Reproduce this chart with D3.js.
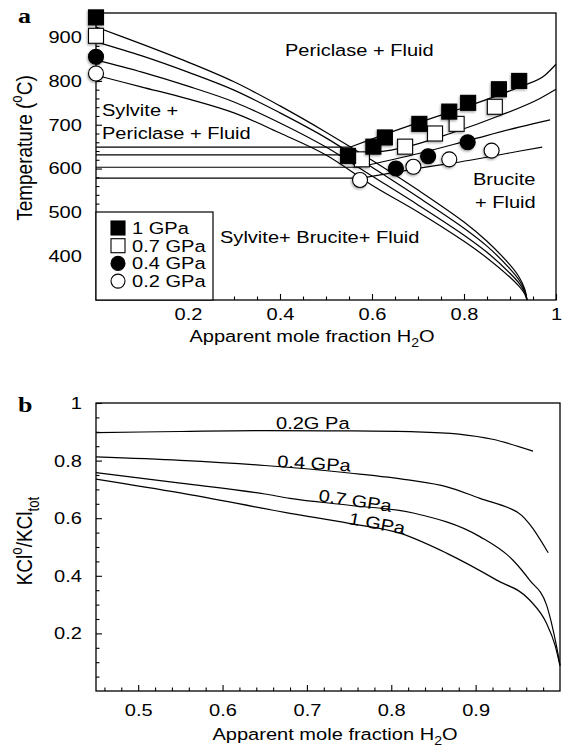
<!DOCTYPE html>
<html><head><meta charset="utf-8">
<script src="https://cdn.jsdelivr.net/npm/d3@7"></script>
<style>
body{margin:0;background:#fff;}
svg text{font-family:"Liberation Sans",Arial,Helvetica,sans-serif;fill:#000;}
</style></head><body>
<svg id="chart" width="563" height="747"></svg>
<script>
// ---------- Panel a: phase relations ----------
const pressures = ["1 GPa", "0.7 GPa", "0.4 GPa", "0.2 GPa"];
const markerShape = ["square", "square", "circle", "circle"];
const markerFill = ["#000", "#fff", "#000", "#fff"];

// experimental brackets (apparent X_H2O, T in °C)
const ptsX_1 = [0, 0.548, 0.603, 0.628, 0.703, 0.768, 0.809, 0.876, 0.920];
const ptsT_1 = [945, 629, 650, 671, 702, 730, 750, 781, 800];
const ptsX_07 = [0, 0.578, 0.672, 0.737, 0.784, 0.867];
const ptsT_07 = [903, 621, 650, 680, 702, 741];
const ptsX_04 = [0, 0.652, 0.722, 0.808];
const ptsT_04 = [855, 600, 628, 660];
const ptsX_02 = [0, 0.574, 0.690, 0.768, 0.860];
const ptsT_02 = [817, 574, 604, 621, 641];

// sylvite saturation curves
const liqX = [0, 0.1, 0.2, 0.3, 0.4, 0.5, 0.6, 0.7, 0.8, 0.85, 0.9, 0.92, 0.932, 0.937];
const liqT_1 = [923, 884, 843, 798, 743, 683, 619, 551, 478, 434, 380, 352, 325, 300];
const liqT_07 = [889, 857, 820, 779, 727, 670, 603, 535, 464, 423, 371, 345, 321, 300];
const liqT_04 = [848, 820, 788, 752, 704, 649, 583, 517, 448, 409, 361, 338, 318, 300];
const liqT_02 = [813, 786, 759, 727, 681, 631, 562, 501, 434, 396, 352, 331, 314, 300];

// sylvite + periclase + brucite invariant (horizontal lines)
const invX = [0.553, 0.558, 0.570, 0.577];
const invT = [649, 631, 603, 578];

// periclase / brucite boundary
const pbX_1 = [0.553, 0.617, 0.704, 0.813, 0.922, 0.976, 1.0];
const pbT_1 = [649, 674, 706, 744, 787, 813, 838];
const pbX_07 = [0.558, 0.661, 0.770, 0.878, 0.965, 1.0];
const pbT_07 = [631, 646, 680, 721, 760, 781];
const pbX_04 = [0.570, 0.704, 0.813, 0.922, 0.987];
const pbT_04 = [603, 635, 665, 695, 711];
const pbX_02 = [0.577, 0.704, 0.813, 0.922, 0.970];
const pbT_02 = [578, 601, 619, 640, 649];

const tickT = [400, 500, 600, 700, 800, 900];
const tickXa = [0.2, 0.4, 0.6, 0.8, 1];

// ---------- Panel b: KCl speciation ----------
const kclX_02 = [0.45, 0.55, 0.65, 0.75, 0.83, 0.88, 0.92, 0.968];
const kcl_02 = [0.897, 0.901, 0.904, 0.903, 0.900, 0.892, 0.874, 0.833];
const kclX_04 = [0.45, 0.55, 0.65, 0.75, 0.82, 0.866, 0.905, 0.945, 0.95, 0.986];
const kcl_04 = [0.813, 0.801, 0.783, 0.757, 0.733, 0.709, 0.669, 0.628, 0.62, 0.48];
const kclX_07 = [0.45, 0.55, 0.65, 0.68, 0.75, 0.826, 0.905, 0.944, 0.964, 0.984, 0.99, 0.996, 1.0];
const kcl_07 = [0.758, 0.722, 0.684, 0.669, 0.645, 0.618, 0.536, 0.455, 0.385, 0.299, 0.235, 0.154, 0.090];
const kclX_1 = [0.45, 0.55, 0.68, 0.75, 0.81, 0.866, 0.925, 0.964, 0.984, 0.994, 1.0];
const kcl_1 = [0.736, 0.688, 0.617, 0.582, 0.548, 0.478, 0.385, 0.316, 0.235, 0.160, 0.087];

const tickKb = [0.2, 0.4, 0.6, 0.8, 1];
const tickXb = [0.5, 0.6, 0.7, 0.8, 0.9];

// ---------- drawing ----------
const SX = 1.18;          // lettering is slightly wide
const FS = 17;
const svg = d3.select("#chart");

const defs = svg.append("defs");
const f = defs.append("filter").attr("id", "shadow").attr("x", "-50%").attr("y", "-50%").attr("width", "200%").attr("height", "200%");
f.append("feDropShadow").attr("dx", -0.8).attr("dy", 1.4).attr("stdDeviation", 0.9)
  .attr("flood-color", "#000").attr("flood-opacity", 0.35);

function txt(g, x, y, parts, o = {}) {
  const t = g.append("text")
    .attr("transform", `translate(${x},${y}) rotate(${o.rot || 0}) scale(${o.sx || SX},${o.sy || 1})`)
    .attr("font-size", o.fs || FS)
    .attr("text-anchor", o.anchor || "start")
    .attr("font-weight", o.bold ? "bold" : null)
    .style("font-family", o.serif ? "'Liberation Serif','Times New Roman',serif" : null);
  let shift = 0;
  (Array.isArray(parts) ? parts : [parts]).forEach(p => {
    if (typeof p === "string") p = { t: p };
    const target = p.sup ? -0.45 : p.sub ? 0.3 : 0;
    const fs = (o.fs || FS) * (p.sup || p.sub ? 0.7 : 1);
    t.append("tspan").attr("dy", ((target - shift) * (o.fs || FS)).toFixed(2))
      .attr("font-size", fs).text(p.t);
    shift = target;
  });
  return t;
}

function styleAxis(g) {
  g.select(".domain").remove();
  g.selectAll("line").attr("stroke", "#000").attr("stroke-width", 1.1);
  g.selectAll("text").attr("font-size", FS).attr("fill", "#000")
    .style("font-family", "'Liberation Sans',Arial,sans-serif");
}
const fmt = d => String(+d.toFixed(2));

// ----- panel a -----
const xA = d3.scaleLinear().domain([0, 1]).range([96, 556]);
const yA = d3.scaleLinear().domain([300, 955]).range([300, 13]);
const gA = svg.append("g");

const minorXa = d3.range(0.05, 1.0, 0.05).filter(v => Math.abs(v / 0.2 - Math.round(v / 0.2)) > 1e-6);
gA.append("g").attr("transform", "translate(0,300)")
  .call(d3.axisBottom(xA).tickValues(minorXa).tickSizeInner(-3.5).tickSizeOuter(0).tickFormat(""))
  .call(styleAxis);
gA.append("g").attr("transform", "translate(0,300)")
  .call(d3.axisBottom(xA).tickValues(tickXa).tickSizeInner(-6).tickSizeOuter(0).tickPadding(8).tickFormat(fmt))
  .call(styleAxis)
  .call(g => g.selectAll("text").attr("transform", `scale(${SX},1)`));

const minorT = d3.range(320, 955, 20).filter(v => v % 100 !== 0);
gA.append("g").attr("transform", "translate(96,0)")
  .call(d3.axisLeft(yA).tickValues(minorT).tickSizeInner(-3.5).tickSizeOuter(0).tickFormat(""))
  .call(styleAxis);
gA.append("g").attr("transform", "translate(96,0)")
  .call(d3.axisLeft(yA).tickValues(tickT).tickSizeInner(-6).tickSizeOuter(0).tickPadding(12).tickFormat(d3.format("d")))
  .call(styleAxis)
  .call(g => g.selectAll("text").attr("transform", `scale(${SX},1)`));

gA.append("rect").attr("x", xA(0)).attr("y", yA(955)).attr("width", xA(1) - xA(0)).attr("height", yA(300) - yA(955))
  .attr("fill", "none").attr("stroke", "#000").attr("stroke-width", 1.3);

const lineA = d3.line().x(d => xA(d[0])).y(d => yA(d[1])).curve(d3.curveMonotoneX);
const lineLiq = d3.line().x(d => xA(d[0])).y(d => yA(d[1])).curve(d3.curveCatmullRom.alpha(0.5));
const zip = (a, b) => a.map((v, i) => [v, b[i]]);
const curveStyle = p => p.attr("fill", "none").attr("stroke", "#000").attr("stroke-width", 1.2);

[liqT_1, liqT_07, liqT_04, liqT_02].forEach(T =>
  gA.append("path").attr("d", lineLiq(zip(liqX, T))).call(curveStyle));
invX.forEach((xe, i) =>
  gA.append("path").attr("d", d3.line()([[xA(0), yA(invT[i])], [xA(xe), yA(invT[i])]])).call(curveStyle));
[[pbX_1, pbT_1], [pbX_07, pbT_07], [pbX_04, pbT_04], [pbX_02, pbT_02]].forEach(([X, T]) =>
  gA.append("path").attr("d", lineA(zip(X, T))).call(curveStyle));

// text labels of the fields
txt(gA, 285, 56, "Periclase +  Fluid");
txt(gA, 102, 116, "Sylvite +");
txt(gA, 102, 139, "Periclase + Fluid");
txt(gA, 473, 185, "Brucite");
txt(gA, 475, 208, "+ Fluid");
txt(gA, 220, 243, "Sylvite+ Brucite+  Fluid");

// markers
function marker(g, shape, fill, cx, cy, size, shadow) {
  const m = shape === "square"
    ? g.append("rect").attr("x", cx - size / 2).attr("y", cy - size / 2).attr("width", size).attr("height", size)
    : g.append("circle").attr("cx", cx).attr("cy", cy).attr("r", size / 2);
  m.attr("fill", fill).attr("stroke", "#000").attr("stroke-width", 1.1);
  if (shadow) m.attr("filter", "url(#shadow)");
  return m;
}
const series = [[ptsX_02, ptsT_02, 3], [ptsX_04, ptsT_04, 2], [ptsX_07, ptsT_07, 1], [ptsX_1, ptsT_1, 0]];
series.forEach(([X, T, k]) => {
  X.forEach((x, i) => marker(gA, markerShape[k], markerFill[k], xA(x), yA(T[i]), 15, true));
});

// legend
const lg = gA.append("g");
lg.append("rect").attr("x", 96).attr("y", 212).attr("width", 117).attr("height", 88)
  .attr("fill", "#fff").attr("stroke", "#000").attr("stroke-width", 1.2);
pressures.forEach((p, k) => {
  const cy = 228 + k * 17.7;
  marker(lg, markerShape[k], markerFill[k], 118, cy, 14, false);
  txt(lg, 132, cy + 6, p);
});

// axis titles and panel letter
txt(gA, 312, 342, ["Apparent mole fraction H", { t: "2", sub: true }, "O"], { anchor: "middle" });
txt(gA, 32, 148, ["Temperature (", { t: "o", sup: true }, "C)"], { anchor: "middle", rot: -90, sx: 1, sy: SX, fs: 19 });
txt(gA, 18, 23, "a", { serif: true, bold: true, fs: 22 });

// ----- panel b -----
const xB = d3.scaleLinear().domain([0.45, 1]).range([96, 560]);
const yB = d3.scaleLinear().domain([0, 1]).range([691, 403]);
const gB = svg.append("g");

const minorXb = d3.range(0.46, 0.995, 0.02).filter(v => Math.abs(v * 10 - Math.round(v * 10)) > 1e-6);
gB.append("g").attr("transform", "translate(0,691)")
  .call(d3.axisBottom(xB).tickValues(minorXb).tickSizeInner(-3.5).tickSizeOuter(0).tickFormat(""))
  .call(styleAxis);
gB.append("g").attr("transform", "translate(0,691)")
  .call(d3.axisBottom(xB).tickValues(tickXb).tickSizeInner(-6).tickSizeOuter(0).tickPadding(13).tickFormat(fmt))
  .call(styleAxis)
  .call(g => g.selectAll("text").attr("transform", `scale(${SX},1)`));

const minorKb = d3.range(0.05, 1.0, 0.05).filter(v => Math.abs(v * 5 - Math.round(v * 5)) > 1e-6);
gB.append("g").attr("transform", "translate(96,0)")
  .call(d3.axisLeft(yB).tickValues(minorKb).tickSizeInner(-3.5).tickSizeOuter(0).tickFormat(""))
  .call(styleAxis);
gB.append("g").attr("transform", "translate(96,0)")
  .call(d3.axisLeft(yB).tickValues(tickKb).tickSizeInner(-6).tickSizeOuter(0).tickPadding(12).tickFormat(fmt))
  .call(styleAxis)
  .call(g => g.selectAll("text").attr("transform", `scale(${SX},1)`));

gB.append("rect").attr("x", xB(0.45)).attr("y", yB(1)).attr("width", xB(1) - xB(0.45)).attr("height", yB(0) - yB(1))
  .attr("fill", "none").attr("stroke", "#000").attr("stroke-width", 1.3);

const lineB = d3.line().x(d => xB(d[0])).y(d => yB(d[1])).curve(d3.curveMonotoneX);
[[kclX_02, kcl_02], [kclX_04, kcl_04], [kclX_07, kcl_07], [kclX_1, kcl_1]].forEach(([X, V]) =>
  gB.append("path").attr("d", lineB(zip(X, V))).call(curveStyle));

txt(gB, 276, 429, "0.2G Pa");
txt(gB, 277, 467, "0.4 GPa", { rot: 3.5 });
txt(gB, 318, 501, "0.7 GPa", { rot: 8.5 });
txt(gB, 348, 524, "1 GPa", { rot: 10.5 });

txt(gB, 335, 740, ["Apparent mole fraction H", { t: "2", sub: true }, "O"], { anchor: "middle" });
txt(gB, 32, 541, ["KCl", { t: "o", sup: true }, "/KCl", { t: "tot", sub: true }], { anchor: "middle", rot: -90, sx: 1, sy: SX, fs: 19 });
txt(gB, 18, 412, "b", { serif: true, bold: true, fs: 22 });
</script>
</body></html>
